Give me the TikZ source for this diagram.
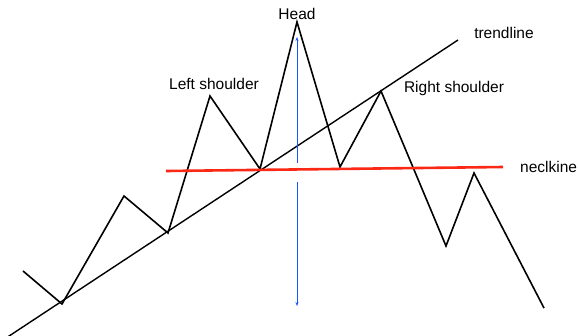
\documentclass[tikz,border=0pt]{standalone}
\usepackage{fontspec}
\setmainfont{Liberation Sans}
\usetikzlibrary{arrows.meta,positioning}
\definecolor{NeckRed}{RGB}{250,40,20}
\definecolor{TargetBlue}{RGB}{25,85,255}
\tikzset{
  price/.style={line width=1.6pt,black,line join=miter},
  trend/.style={line width=1.4pt,black},
  neck/.style={line width=2.6pt,NeckRed},
  target/.style={-{Stealth[length=4pt,width=3pt]},line width=1pt,TargetBlue},
  lbl/.style={font=\fontsize{15.5}{17}\selectfont,inner sep=0pt}
}
\begin{document}
\begin{tikzpicture}[x=1pt,y=-1pt]
  \useasboundingbox (0,0) rectangle (578,335);
  % price path
  \coordinate (p0) at (23,271);
  \coordinate (p1) at (62,304);
  \coordinate (p2) at (124,196);
  \coordinate (p3) at (168,233);
  \coordinate (ls) at (210,96);
  \coordinate (p5) at (260,169);
  \coordinate (hd) at (297,22);
  \coordinate (p7) at (340,167);
  \coordinate (rs) at (381,91);
  \coordinate (p9) at (446,246);
  \coordinate (p10) at (474,173);
  \coordinate (p11) at (544,308);
  \draw[price] (p0) -- (p1) -- (p2) -- (p3) -- (ls) -- (p5) -- (hd)
    -- (p7) -- (rs) -- (p9) -- (p10) -- (p11);
  % trendline and neckline
  \coordinate (t0) at (0,342);
  \coordinate (t1) at (458,40);
  \draw[trend] (t0) -- (t1);
  \coordinate (n0) at (166,171);
  \coordinate (n1) at (503,167);
  \draw[neck] (n0) -- (n1);
  % price target
  \coordinate (m0) at (297,163);
  \coordinate (m1) at (297,37);
  \coordinate (m2) at (297,182);
  \coordinate (m3) at (297,306);
  \draw[target] (m0) -- (m1);
  \draw[target] (m2) -- (m3);
  % labels
  \node[lbl] (headlbl) at (297,14) {Head};
  \node[lbl] (lslbl) at (214,84) {Left shoulder};
  \node[lbl] (rslbl) at (454,88) {Right shoulder};
  \node[lbl] (trlbl) at (504,33) {trendline};
  \node[lbl,anchor=west] (nklbl) at (520,167) {neclkine};
\end{tikzpicture}
\end{document}
